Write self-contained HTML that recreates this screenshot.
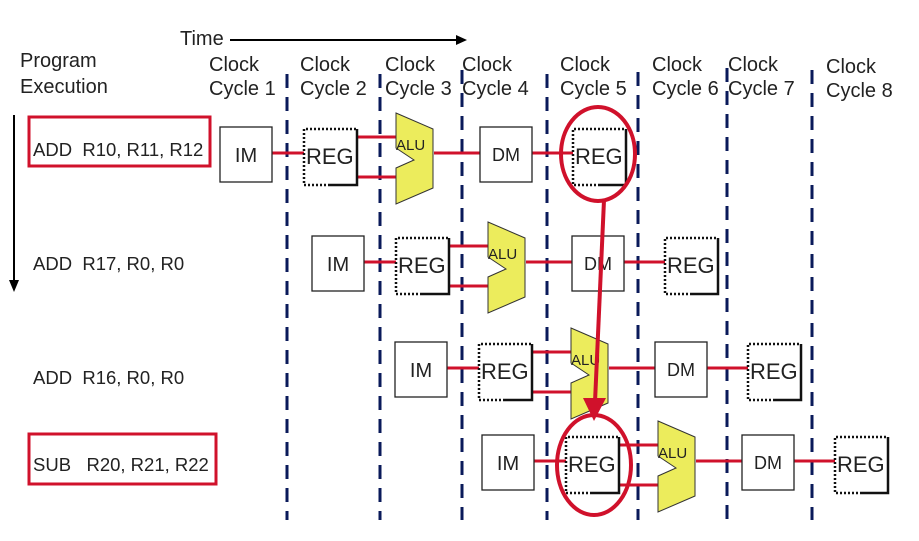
<!DOCTYPE html>
<html><head><meta charset="utf-8"><style>
html,body{margin:0;padding:0;background:#fff;}
svg{display:block;font-family:"Liberation Sans",Arial,sans-serif;}
.ins{white-space:pre;}
</style></head><body>
<svg width="919" height="541" viewBox="0 0 919 541" xmlns="http://www.w3.org/2000/svg">
<defs>
<g id="stage">
  <line x1="52" y1="26" x2="84" y2="26" stroke="#d0112b" stroke-width="3"/>
  <line x1="137" y1="10" x2="177" y2="10" stroke="#d0112b" stroke-width="3"/>
  <line x1="137" y1="50" x2="177" y2="50" stroke="#d0112b" stroke-width="3"/>
  <line x1="214" y1="26" x2="260" y2="26" stroke="#d0112b" stroke-width="3"/>
  <line x1="312" y1="26" x2="353" y2="26" stroke="#d0112b" stroke-width="3"/>
  <rect x="0" y="0" width="52" height="55" fill="#fff" stroke="#222" stroke-width="1.3"/>
  <text x="26" y="35" font-size="20" text-anchor="middle" fill="#222">IM</text>
  <rect x="84" y="2" width="53" height="56" fill="#fff" stroke="none"/>
  <path d="M137 2 V58 H110" fill="none" stroke="#111" stroke-width="2.5"/>
  <path d="M110 58 H84 V2 H137" fill="none" stroke="#111" stroke-width="2.5" stroke-dasharray="2 2"/>
  <text x="86" y="37" font-size="22" fill="#222">REG</text>
  <polygon points="176,-14 213,2 213,61 176,77 176,41 194,33 176,21" fill="#ecec5c" stroke="#333" stroke-width="1"/>
  <text x="176" y="23" font-size="15" fill="#222">ALU</text>
  <rect x="260" y="0" width="52" height="55" fill="#fff" stroke="#222" stroke-width="1.3"/>
  <text x="286" y="34" font-size="18" text-anchor="middle" fill="#222">DM</text>
  <rect x="353" y="2" width="53" height="56" fill="#fff" stroke="none"/>
  <path d="M406 2 V58 H380" fill="none" stroke="#111" stroke-width="2.5"/>
  <path d="M380 58 H353 V2 H406" fill="none" stroke="#111" stroke-width="2.5" stroke-dasharray="2 2"/>
  <text x="355" y="37" font-size="22" fill="#222">REG</text>
</g>
</defs>
<g stroke="#0a1a5a" stroke-width="3" stroke-dasharray="14 9">
  <line x1="287" y1="74" x2="287" y2="520"/>
  <line x1="380" y1="74" x2="380" y2="520"/>
  <line x1="462" y1="70" x2="462" y2="520"/>
  <line x1="547" y1="74" x2="547" y2="520"/>
  <line x1="638" y1="72" x2="638" y2="520"/>
  <line x1="727" y1="68" x2="727" y2="520"/>
  <line x1="812" y1="70" x2="812" y2="520"/>
</g>
<g font-size="20" fill="#222">
  <text x="180" y="45">Time</text>
  <text x="20" y="67">Program</text><text x="20" y="93">Execution</text>
  <text x="209" y="71">Clock</text><text x="209" y="95">Cycle 1</text>
  <text x="300" y="71">Clock</text><text x="300" y="95">Cycle 2</text>
  <text x="385" y="71">Clock</text><text x="385" y="95">Cycle 3</text>
  <text x="462" y="71">Clock</text><text x="462" y="95">Cycle 4</text>
  <text x="560" y="71">Clock</text><text x="560" y="95">Cycle 5</text>
  <text x="652" y="71">Clock</text><text x="652" y="95">Cycle 6</text>
  <text x="728" y="71">Clock</text><text x="728" y="95">Cycle 7</text>
  <text x="826" y="73">Clock</text><text x="826" y="97">Cycle 8</text>
</g>
<line x1="230" y1="40" x2="458" y2="40" stroke="#000" stroke-width="2"/>
<polygon points="467,40 456,35 456,45" fill="#000"/>
<line x1="14" y1="115" x2="14" y2="282" stroke="#000" stroke-width="2"/>
<polygon points="14,292 9,280 19,280" fill="#000"/>
<g font-size="18.5" fill="#222" class="ins">
  <text x="33" y="156" class="ins">ADD  R10, R11, R12</text>
  <text x="33" y="270" class="ins">ADD  R17, R0, R0</text>
  <text x="33" y="384" class="ins">ADD  R16, R0, R0</text>
  <text x="33" y="471" class="ins">SUB   R20, R21, R22</text>
</g>
<rect x="29" y="117" width="181" height="49" fill="none" stroke="#d0112b" stroke-width="3"/>
<rect x="29" y="434" width="187" height="50" fill="none" stroke="#d0112b" stroke-width="3"/>
<use href="#stage" transform="translate(220,127)"/>
<use href="#stage" transform="translate(312,236)"/>
<use href="#stage" transform="translate(395,342)"/>
<use href="#stage" transform="translate(482,435)"/>
<ellipse cx="598" cy="154" rx="37" ry="47" fill="none" stroke="#d0112b" stroke-width="4"/>
<ellipse cx="594" cy="465" rx="37" ry="50" fill="none" stroke="#d0112b" stroke-width="4"/>
<line x1="604" y1="200" x2="595" y2="402" stroke="#d0112b" stroke-width="4"/>
<polygon points="594,421 583,398 606,398" fill="#d0112b"/>
</svg>
</body></html>
